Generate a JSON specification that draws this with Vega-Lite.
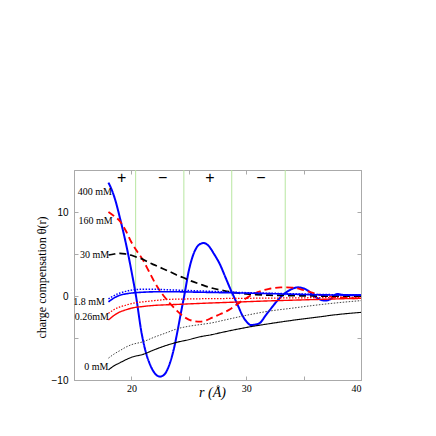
{
  "$schema": "https://vega.github.io/schema/vega-lite/v6.json",
  "width": 287,
  "height": 210,
  "autosize": "none",
  "padding": {"left": 74, "top": 170, "right": 75, "bottom": 56},
  "background": "white",
  "config": {
    "view": {"stroke": "#aaaaaa"},
    "axis": {"domainColor": "#aaaaaa", "tickColor": "#aaaaaa", "tickSize": -4, "grid": false, "labelColor": "black", "titleColor": "black"}
  },
  "datasets": {
    "curves": [
      {"s":"b400","r":18.0,"v":13.5},{"s":"b400","r":18.3,"v":12.6},{"s":"b400","r":18.6,"v":11.4},{"s":"b400","r":19.0,"v":9.3},{"s":"b400","r":19.4,"v":7.0},{"s":"b400","r":19.7,"v":5.1},{"s":"b400","r":20.0,"v":3.0},{"s":"b400","r":20.4,"v":0.0},{"s":"b400","r":20.9,"v":-4.5},{"s":"b400","r":21.3,"v":-6.9},{"s":"b400","r":21.7,"v":-8.4},{"s":"b400","r":22.1,"v":-9.3},{"s":"b400","r":22.5,"v":-9.6},{"s":"b400","r":22.9,"v":-9.3},{"s":"b400","r":23.3,"v":-8.2},{"s":"b400","r":23.7,"v":-6.3},{"s":"b400","r":24.0,"v":-4.3},{"s":"b400","r":24.3,"v":-2.1},{"s":"b400","r":24.6,"v":0.0},{"s":"b400","r":25.0,"v":3.0},{"s":"b400","r":25.5,"v":5.3},{"s":"b400","r":26.0,"v":6.2},{"s":"b400","r":26.3,"v":6.3},{"s":"b400","r":26.7,"v":6.0},{"s":"b400","r":27.2,"v":5.0},{"s":"b400","r":27.7,"v":3.8},{"s":"b400","r":28.2,"v":2.2},{"s":"b400","r":28.6,"v":0.9},{"s":"b400","r":28.9,"v":0.0},{"s":"b400","r":29.3,"v":-1.2},{"s":"b400","r":29.7,"v":-2.4},{"s":"b400","r":30.0,"v":-3.0},{"s":"b400","r":30.4,"v":-3.45},{"s":"b400","r":30.8,"v":-3.4},{"s":"b400","r":31.2,"v":-3.2},{"s":"b400","r":31.7,"v":-2.3},{"s":"b400","r":32.1,"v":-1.6},{"s":"b400","r":32.5,"v":-0.9},{"s":"b400","r":32.9,"v":-0.28},{"s":"b400","r":33.4,"v":0.35},{"s":"b400","r":33.8,"v":0.71},{"s":"b400","r":34.5,"v":1.03},{"s":"b400","r":35.3,"v":0.71},{"s":"b400","r":36.0,"v":-0.08},{"s":"b400","r":36.5,"v":-0.45},{"s":"b400","r":36.9,"v":-0.55},{"s":"b400","r":37.45,"v":-0.28},{"s":"b400","r":37.9,"v":0.24},{"s":"b400","r":38.5,"v":0.12},{"s":"b400","r":39.2,"v":0.1},{"s":"b400","r":40.0,"v":0.1},

      {"s":"r160","r":18.0,"v":10.0},{"s":"r160","r":18.5,"v":9.5},{"s":"r160","r":19.0,"v":8.9},{"s":"r160","r":19.5,"v":7.8},{"s":"r160","r":20.0,"v":6.4},{"s":"r160","r":20.5,"v":5.3},{"s":"r160","r":21.0,"v":4.3},{"s":"r160","r":21.5,"v":3.0},{"s":"r160","r":22.0,"v":1.7},{"s":"r160","r":22.5,"v":0.6},{"s":"r160","r":23.0,"v":-0.3},{"s":"r160","r":23.5,"v":-1.1},{"s":"r160","r":24.0,"v":-1.8},{"s":"r160","r":24.5,"v":-2.4},{"s":"r160","r":25.0,"v":-2.8},{"s":"r160","r":25.5,"v":-3.0},{"s":"r160","r":26.0,"v":-3.05},{"s":"r160","r":26.5,"v":-2.9},{"s":"r160","r":27.0,"v":-2.6},{"s":"r160","r":27.5,"v":-2.3},{"s":"r160","r":28.0,"v":-2.0},{"s":"r160","r":28.5,"v":-1.65},{"s":"r160","r":29.0,"v":-1.2},{"s":"r160","r":29.5,"v":-0.7},{"s":"r160","r":30.0,"v":-0.27},{"s":"r160","r":30.5,"v":0.15},{"s":"r160","r":31.0,"v":0.45},{"s":"r160","r":31.5,"v":0.7},{"s":"r160","r":32.0,"v":0.85},{"s":"r160","r":32.5,"v":0.97},{"s":"r160","r":33.0,"v":1.02},{"s":"r160","r":33.5,"v":1.03},{"s":"r160","r":34.0,"v":1.0},{"s":"r160","r":34.5,"v":0.9},{"s":"r160","r":35.0,"v":0.7},{"s":"r160","r":35.5,"v":0.5},{"s":"r160","r":36.0,"v":0.3},{"s":"r160","r":36.5,"v":0.1},{"s":"r160","r":37.0,"v":0.0},{"s":"r160","r":38.0,"v":-0.15},{"s":"r160","r":39.0,"v":-0.25},{"s":"r160","r":40.0,"v":-0.3},

      {"s":"k30","r":18.0,"v":4.88},{"s":"k30","r":18.5,"v":5.0},{"s":"k30","r":19.0,"v":5.08},{"s":"k30","r":19.5,"v":5.0},{"s":"k30","r":20.0,"v":4.85},{"s":"k30","r":20.5,"v":4.6},{"s":"k30","r":21.0,"v":4.37},{"s":"k30","r":21.5,"v":4.0},{"s":"k30","r":22.0,"v":3.7},{"s":"k30","r":22.5,"v":3.4},{"s":"k30","r":23.0,"v":3.1},{"s":"k30","r":23.5,"v":2.8},{"s":"k30","r":24.0,"v":2.45},{"s":"k30","r":24.5,"v":2.2},{"s":"k30","r":25.0,"v":1.9},{"s":"k30","r":26.0,"v":1.4},{"s":"k30","r":27.0,"v":0.95},{"s":"k30","r":28.0,"v":0.65},{"s":"k30","r":29.0,"v":0.4},{"s":"k30","r":30.0,"v":0.25},{"s":"k30","r":32.0,"v":0.1},{"s":"k30","r":34.0,"v":0.05},{"s":"k30","r":36.0,"v":0.0},{"s":"k30","r":38.0,"v":0.0},{"s":"k30","r":40.0,"v":0.0},

      {"s":"b18","r":18.0,"v":-0.7},{"s":"b18","r":18.3,"v":-0.4},{"s":"b18","r":18.6,"v":-0.15},{"s":"b18","r":19.0,"v":0.1},{"s":"b18","r":19.5,"v":0.25},{"s":"b18","r":20.0,"v":0.35},{"s":"b18","r":21.0,"v":0.45},{"s":"b18","r":22.0,"v":0.5},{"s":"b18","r":24.0,"v":0.5},{"s":"b18","r":26.0,"v":0.45},{"s":"b18","r":28.0,"v":0.4},{"s":"b18","r":30.0,"v":0.35},{"s":"b18","r":33.0,"v":0.25},{"s":"b18","r":36.0,"v":0.15},{"s":"b18","r":40.0,"v":0.1},

      {"s":"b18d","r":18.0,"v":-0.35},{"s":"b18d","r":18.5,"v":0.05},{"s":"b18d","r":19.0,"v":0.35},{"s":"b18d","r":19.5,"v":0.55},{"s":"b18d","r":20.0,"v":0.7},{"s":"b18d","r":21.0,"v":0.8},{"s":"b18d","r":22.0,"v":0.8},{"s":"b18d","r":23.0,"v":0.75},{"s":"b18d","r":25.0,"v":0.65},{"s":"b18d","r":27.0,"v":0.55},{"s":"b18d","r":30.0,"v":0.4},{"s":"b18d","r":33.0,"v":0.3},{"s":"b18d","r":36.0,"v":0.2},{"s":"b18d","r":40.0,"v":0.1},

      {"s":"r026","r":18.0,"v":-2.86},{"s":"r026","r":18.5,"v":-2.3},{"s":"r026","r":19.0,"v":-1.9},{"s":"r026","r":19.5,"v":-1.65},{"s":"r026","r":20.0,"v":-1.45},{"s":"r026","r":21.0,"v":-1.25},{"s":"r026","r":22.0,"v":-1.12},{"s":"r026","r":23.0,"v":-1.05},{"s":"r026","r":24.0,"v":-1.0},{"s":"r026","r":26.0,"v":-0.88},{"s":"r026","r":28.0,"v":-0.78},{"s":"r026","r":30.0,"v":-0.68},{"s":"r026","r":32.0,"v":-0.58},{"s":"r026","r":34.0,"v":-0.5},{"s":"r026","r":36.0,"v":-0.42},{"s":"r026","r":38.0,"v":-0.34},{"s":"r026","r":40.0,"v":-0.27},

      {"s":"r026d","r":18.0,"v":-2.06},{"s":"r026d","r":18.5,"v":-1.6},{"s":"r026d","r":19.0,"v":-1.3},{"s":"r026d","r":19.5,"v":-1.1},{"s":"r026d","r":20.0,"v":-0.9},{"s":"r026d","r":21.0,"v":-0.7},{"s":"r026d","r":22.0,"v":-0.55},{"s":"r026d","r":23.0,"v":-0.42},{"s":"r026d","r":25.0,"v":-0.35},{"s":"r026d","r":28.0,"v":-0.3},{"s":"r026d","r":32.0,"v":-0.25},{"s":"r026d","r":36.0,"v":-0.2},{"s":"r026d","r":40.0,"v":-0.15},

      {"s":"k0","r":18.0,"v":-8.8},{"s":"k0","r":18.5,"v":-8.3},{"s":"k0","r":19.0,"v":-7.95},{"s":"k0","r":19.5,"v":-7.6},{"s":"k0","r":20.0,"v":-7.3},{"s":"k0","r":21.0,"v":-6.95},{"s":"k0","r":22.0,"v":-6.4},{"s":"k0","r":23.0,"v":-5.9},{"s":"k0","r":24.0,"v":-5.5},{"s":"k0","r":25.0,"v":-5.2},{"s":"k0","r":26.0,"v":-4.85},{"s":"k0","r":27.0,"v":-4.6},{"s":"k0","r":28.0,"v":-4.3},{"s":"k0","r":30.0,"v":-3.75},{"s":"k0","r":32.0,"v":-3.3},{"s":"k0","r":34.0,"v":-2.9},{"s":"k0","r":36.0,"v":-2.55},{"s":"k0","r":38.0,"v":-2.2},{"s":"k0","r":40.0,"v":-1.95},

      {"s":"k0d","r":18.0,"v":-7.4},{"s":"k0d","r":18.5,"v":-6.9},{"s":"k0d","r":19.0,"v":-6.5},{"s":"k0d","r":19.5,"v":-6.1},{"s":"k0d","r":20.0,"v":-5.8},{"s":"k0d","r":21.0,"v":-5.45},{"s":"k0d","r":22.0,"v":-4.9},{"s":"k0d","r":23.0,"v":-4.4},{"s":"k0d","r":24.0,"v":-3.9},{"s":"k0d","r":25.0,"v":-3.6},{"s":"k0d","r":26.0,"v":-3.4},{"s":"k0d","r":27.0,"v":-3.2},{"s":"k0d","r":28.0,"v":-2.9},{"s":"k0d","r":30.0,"v":-2.3},{"s":"k0d","r":32.0,"v":-1.8},{"s":"k0d","r":34.0,"v":-1.45},{"s":"k0d","r":36.0,"v":-1.1},{"s":"k0d","r":38.0,"v":-0.8},{"s":"k0d","r":40.0,"v":-0.55}
    ],
    "zones": [
      {"r": 20.37, "top": 15, "bottom": 0},
      {"r": 24.57, "top": 15, "bottom": 0},
      {"r": 28.74, "top": 15, "bottom": 0},
      {"r": 33.4, "top": 15, "bottom": 0}
    ],
    "labels": [
      {"t": "400 mM", "r": 18.31, "v": 12.35},
      {"t": "160 mM", "r": 18.37, "v": 8.93},
      {"t": "30 mM", "r": 18.07, "v": 4.88},
      {"t": "1.8 mM", "r": 17.7, "v": -0.68},
      {"t": "0.26mM", "r": 18.05, "v": -2.54},
      {"t": "0 mM", "r": 17.99, "v": -8.42}
    ],
    "signs": [
      {"t": "+", "r": 19.15, "v": 14.1},
      {"t": "−", "r": 22.73, "v": 14.1},
      {"t": "+", "r": 26.85, "v": 14.1},
      {"t": "−", "r": 31.29, "v": 14.1}
    ]
  },
  "layer": [
    {
      "data": {"name": "zones"},
      "mark": {"type": "rule", "color": "#b8e6a0", "strokeWidth": 1},
      "encoding": {
        "x": {"field": "r", "type": "quantitative", "scale": {"domain": [15, 40], "nice": false, "zero": false},
          "axis": {"orient": "bottom", "values": [20, 25, 30, 35, 40], "labelExpr": "datum.value % 10 === 0 ? datum.label : ''", "labelFont": "Liberation Serif", "labelFontSize": 10, "labelPadding": 7, "title": "r (Å)", "titleFont": "Liberation Serif", "titleFontSize": 14, "titleFontStyle": "italic", "titleFontWeight": "normal", "titleX": 138, "titleY": 12, "titleBaseline": "middle", "titleAlign": "center"}},
        "y": {"field": "top", "type": "quantitative", "scale": {"domain": [-10, 15], "nice": false, "zero": false},
          "axis": {"orient": "left", "values": [-10, -5, 0, 5, 10], "labelExpr": "datum.value % 10 === 0 ? datum.label : ''", "labelFont": "Liberation Sans", "labelFontSize": 10, "labelPadding": 10, "title": "charge compensation θ(r)", "titleFont": "Liberation Serif", "titleFontSize": 12, "titleFontWeight": "normal", "titleAngle": -90, "titleX": -33, "titleY": 107, "titleAlign": "center", "titleBaseline": "middle"}},
        "y2": {"field": "bottom"}
      }
    },
    {
      "data": {"name": "curves"},
      "mark": {"type": "line", "interpolate": "monotone"},
      "encoding": {
        "x": {"field": "r", "type": "quantitative", "axis": null},
        "y": {"field": "v", "type": "quantitative", "axis": null},
        "detail": {"field": "s"},
        "color": {"field": "s", "type": "nominal", "legend": null,
          "scale": {"domain": ["k0d", "k0", "r026d", "r026", "b18d", "b18", "k30", "r160", "b400"],
                    "range": ["#444444", "#000000", "#ff0000", "#ff0000", "#0000ff", "#0000ff", "#000000", "#ff0000", "#0000ff"]}},
        "strokeDash": {"field": "s", "type": "nominal", "legend": null,
          "scale": {"domain": ["k0d", "k0", "r026d", "r026", "b18d", "b18", "k30", "r160", "b400"],
                    "range": [[1.5, 1.5], [1, 0], [1.5, 1.5], [1, 0], [1.5, 1.5], [1, 0], [7, 4], [7, 4], [1, 0]]}},
        "strokeWidth": {"field": "s", "type": "nominal", "legend": null,
          "scale": {"domain": ["k0d", "k0", "r026d", "r026", "b18d", "b18", "k30", "r160", "b400"],
                    "range": [1, 2, 1, 2, 1.2, 1.8, 1.6, 1.8, 2.2]}},
        "order": {"field": "r", "type": "quantitative"}
      }
    },
    {
      "data": {"name": "labels"},
      "mark": {"type": "text", "align": "right", "baseline": "middle", "font": "Liberation Serif", "fontSize": 10, "color": "black"},
      "encoding": {
        "x": {"field": "r", "type": "quantitative", "axis": null},
        "y": {"field": "v", "type": "quantitative", "axis": null},
        "text": {"field": "t"}
      }
    },
    {
      "data": {"name": "signs"},
      "mark": {"type": "text", "align": "center", "baseline": "middle", "font": "Liberation Sans", "fontSize": 16, "color": "black"},
      "encoding": {
        "x": {"field": "r", "type": "quantitative", "axis": null},
        "y": {"field": "v", "type": "quantitative", "axis": null},
        "text": {"field": "t"}
      }
    },
    {
      "data": {"name": "signs"},
      "mark": {"type": "point", "opacity": 0},
      "encoding": {
        "x": {"field": "r", "type": "quantitative", "axis": {"orient": "top", "values": [20, 25, 30, 35, 40], "labels": false, "title": null}},
        "y": {"field": "v", "type": "quantitative", "axis": {"orient": "right", "values": [-10, -5, 0, 5, 10], "labels": false, "title": null}}
      }
    }
  ],
  "resolve": {"axis": {"x": "independent", "y": "independent"}}
}
